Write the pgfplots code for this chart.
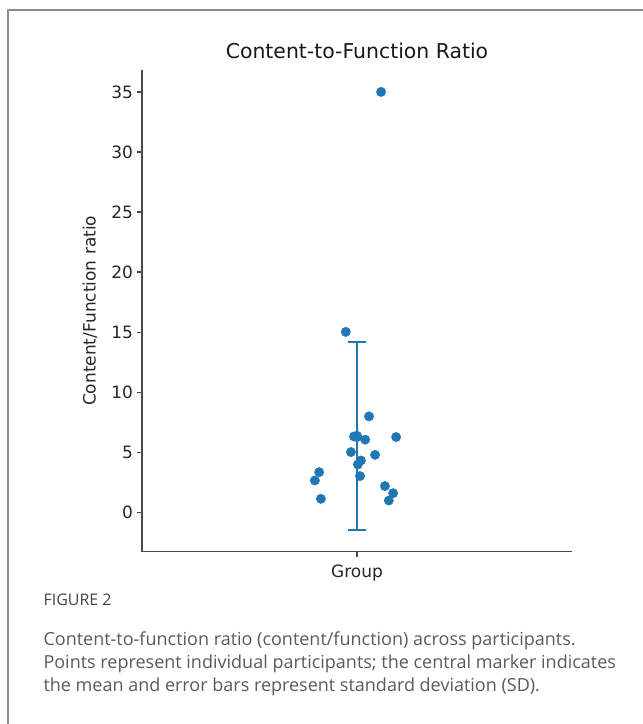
\documentclass[border=0pt]{standalone}
\usepackage{fontspec}
\setmainfont{DejaVu Sans}
\newfontfamily\capfont{Open Sans}
\usepackage{pgfplots}
\pgfplotsset{compat=1.18}
\definecolor{c1}{HTML}{1F77B4}
\definecolor{spine}{HTML}{4A4A4A}
\definecolor{capgray}{HTML}{5A5A5A}
\definecolor{capdark}{HTML}{444444}
\definecolor{framegray}{HTML}{8C8C8C}
\begin{document}
\begin{tikzpicture}[x=1pt,y=1pt]
\path[use as bounding box] (0pt,0pt) rectangle (643pt,724pt);
\draw[framegray, line width=1.2pt] (8pt,-1pt) -- (8pt,714pt) -- (644pt,714pt);
\node[anchor=base, font=\fontsize{20.4}{24}\selectfont, text=black!90] at (357pt,665pt) {Content-to-Function Ratio};
\begin{axis}[
  at={(142pt,172.3pt)}, anchor=south west,
  scale only axis, width=430pt, height=481.7pt,
  xmin=-0.5, xmax=0.5, ymin=-3.26, ymax=36.82,
  axis x line*=bottom, axis y line*=left,
  axis line style={-, spine, line width=1.4pt},
  tick style={spine, line width=1.3pt},
  tick align=outside, major tick length=5.5pt,
  ytick={0,5,10,15,20,25,30,35}, xtick={0}, xticklabels={Group},
  /pgf/number format/assume math mode=true,
  tick label style={font=\fontsize{17}{20}\selectfont, text=black!85},
  xticklabel style={yshift=-4pt},
  ylabel={Content/Function ratio},
  ylabel style={font=\fontsize{17}{20}\selectfont, text=black!85, at={(axis description cs:-0.121,0.5)}, anchor=center},
  clip=false,
]
\addplot[only marks, mark=*, mark size=4.7pt, color=c1,
  error bars/.cd, y dir=both, y explicit,
  error bar style={line width=2pt, c1},
  error mark options={rotate=90, mark size=9pt, line width=2pt, c1}]
  coordinates {(0,6.38) +- (0,7.82)};
\addplot[only marks, mark=*, mark size=4.7pt, color=c1] table {
x y
0.056 35.0
-0.026 15.03
0.028 8.0
-0.007 6.33
0.000 6.28
0.019 6.06
0.091 6.28
-0.014 5.03
0.042 4.8
0.009 4.33
0.002 4.0
0.007 3.03
-0.088 3.36
-0.098 2.67
-0.084 1.14
0.065 2.2
0.084 1.61
0.074 1.0
};
\end{axis}
\node[anchor=base west, font=\capfont\fontsize{16}{18}\selectfont, text=capdark] at (40pt,118pt) {FIGURE 2};
\node[anchor=base west, font=\capfont\fontsize{18}{22}\selectfont, text=capgray] at (40pt,78pt) {Content-to-function ratio (content/function) across participants.};
\node[anchor=base west, font=\capfont\fontsize{18}{22}\selectfont, text=capgray] at (40pt,55pt) {Points represent individual participants; the central marker indicates};
\node[anchor=base west, font=\capfont\fontsize{18}{22}\selectfont, text=capgray] at (40pt,32pt) {the mean and error bars represent standard deviation (SD).};
\end{tikzpicture}
\end{document}
